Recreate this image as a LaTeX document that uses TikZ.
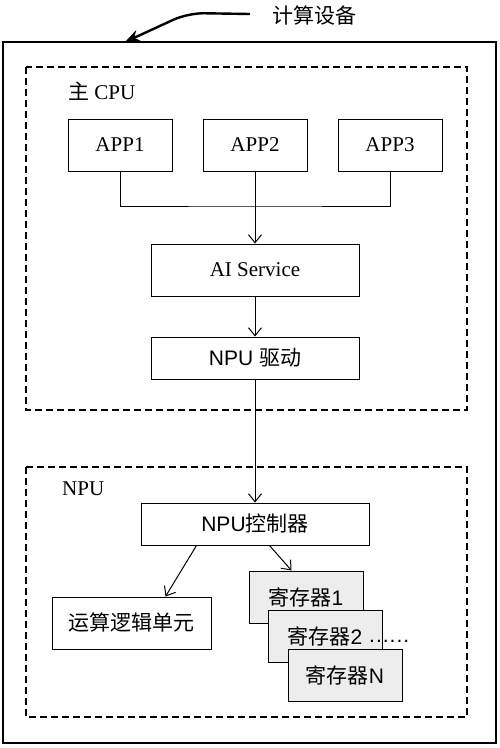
\documentclass[tikz,border=0pt]{standalone}
\usepackage{fontspec}
\setmainfont{Liberation Serif}
\newfontfamily\cjk{Noto Sans CJK SC}
\newfontfamily\arial{Liberation Sans}
\usetikzlibrary{arrows.meta,calc}
\definecolor{reggray}{HTML}{EDEDED}
\begin{document}
\begin{tikzpicture}[x=1pt,y=-1pt,
  box/.style={draw,line width=1pt,inner sep=0pt,font=\fontsize{21}{24}\selectfont},
  regbox/.style={box,fill=reggray,minimum width=114pt,minimum height=52pt},
  arr/.style={line width=1pt,-{Straight Barb[length=8pt,width=13pt]}},
  group/.style={draw,line width=2pt,dash pattern=on 7pt off 4pt},
  lbl/.style={inner sep=0pt,font=\fontsize{21}{24}\selectfont}]
\useasboundingbox (0,0) rectangle (500,748);
% outer device box
\draw[line width=1.5pt] (3,42) rectangle (496,743);
\node[lbl,anchor=west] (dev) at (272,15) {\cjk 计算设备};
\coordinate (devtip) at (125,42);
\draw[line width=2.4pt,rounded corners=16pt,-{Stealth[length=15pt,width=12pt]}] (dev.west) ++(-22,-1) -- (188,13) -- (devtip);
% groups
\draw[group] (26,67) rectangle (467,410);
\draw[group] (26,467) rectangle (467,717);
\node[lbl,anchor=west] (cpu) at (68,91) {{\cjk 主} CPU};
\node[lbl,anchor=west] (npu) at (62,489) {NPU};
% CPU nodes
\node[box,minimum width=104pt,minimum height=52pt] (a1) at (120,145) {APP1};
\node[box,minimum width=104pt,minimum height=52pt] (a2) at (255,145) {APP2};
\node[box,minimum width=104pt,minimum height=52pt] (a3) at (390,145) {APP3};
\node[box,minimum width=208pt,minimum height=52pt] (ai) at (255,270) {AI Service};
\node[box,minimum width=208pt,minimum height=42pt] (drv) at (255,358) {\arial NPU {\cjk 驱动}};
\coordinate (j) at (255,206);
\draw[line width=1pt] (a1.south) |- (j) -| (a3.south);
\draw[arr] (a2.south) -- (ai.north);
\draw[arr] (ai.south) -- (drv.north);
% NPU nodes
\node[box,minimum width=228pt,minimum height=42pt] (ctrl) at (255,524) {\arial NPU{\cjk 控制器}};
\draw[arr] (drv.south) -- (ctrl.north);
\node[box,minimum width=159pt,minimum height=52pt] (alu) at (131.5,623) {\cjk 运算逻辑单元};
\node[regbox] (r1) at (306,597) {\cjk 寄存器\arial 1};
\node[regbox] (r2) at (325,636) {\cjk 寄存器\arial 2};
\node[regbox] (rn) at (345,675) {\cjk 寄存器\arial N};
\node[lbl,anchor=base west] (dots) at (369,642) {\arial .\kern1pt.\kern1pt.\kern1pt.\kern1pt.\kern1pt.};
\draw[arr] ($(ctrl.south west)+(56,0)$) -- ($(alu.north west)+(114,0)$);
\draw[arr] ($(ctrl.south west)+(129,0)$) -- ($(r1.north west)+(43,0)$);
\end{tikzpicture}
\end{document}
